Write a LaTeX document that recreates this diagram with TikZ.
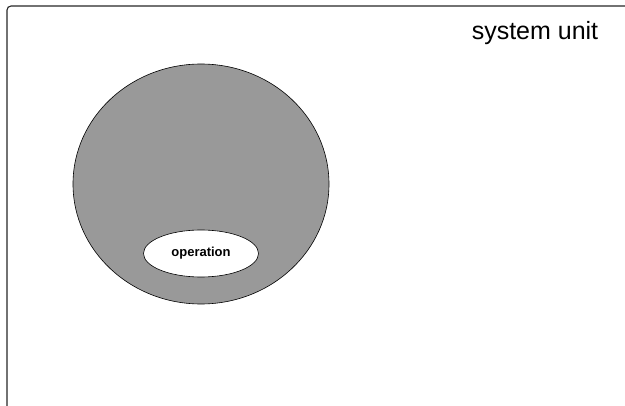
\documentclass[tikz,border=0pt]{standalone}
\usepackage{fontspec}
\setmainfont{Liberation Sans}
\usetikzlibrary{shapes.geometric}
\begin{document}
\begin{tikzpicture}[x=1pt,y=-1pt,
  frame/.style={draw=black!85, line width=1.1pt, rounded corners=4pt},
  outer/.style={draw=black, fill=black!40, line width=0.6pt},
  inner/.style={draw=black, fill=white, line width=0.6pt},
  unitlabel/.style={font=\fontsize{25}{28}\selectfont, anchor=base},
  oplabel/.style={font=\fontsize{13}{15}\selectfont\bfseries}]
  \useasboundingbox (0,0) rectangle (625,406);
  \clip (0,0) rectangle (625,406);
  % enclosing unit frame, running past the page edges
  \draw[frame] (7,6) rectangle (660,440);
  \node[unitlabel] (unit) at (535,40) {system unit};
  % large region with the operation inside
  \node[outer, ellipse, minimum width=256pt, minimum height=240pt, inner sep=0pt] (region) at (201,184) {};
  \node[inner, ellipse, minimum width=115pt, minimum height=47pt, inner sep=0pt, oplabel] (op) at (201,253.5) {operation};
\end{tikzpicture}
\end{document}
